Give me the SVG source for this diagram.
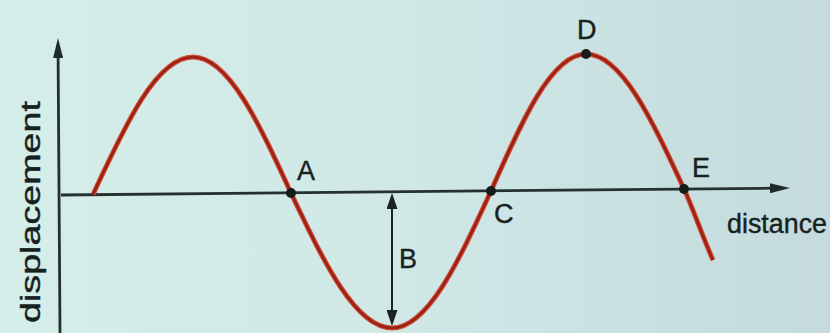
<svg xmlns="http://www.w3.org/2000/svg" width="830" height="333" viewBox="0 0 830 333">
  <defs>
    <linearGradient id="bg" x1="0" y1="0" x2="1" y2="0">
      <stop offset="0" stop-color="#d6eee9"/>
      <stop offset="0.5" stop-color="#cfe8e6"/>
      <stop offset="1" stop-color="#c4dadd"/>
    </linearGradient>
    <marker id="axisHead" markerUnits="userSpaceOnUse" viewBox="0 0 20 10" refX="2" refY="5" markerWidth="20" markerHeight="10" orient="auto">
      <path d="M0,0 L20,5 L0,10 Z" fill="#1f2b29"/>
    </marker>
    <marker id="bHead" markerUnits="userSpaceOnUse" viewBox="0 0 16 11" refX="2" refY="5.5" markerWidth="16" markerHeight="11" orient="auto-start-reverse">
      <path d="M0,0 L16,5.5 L0,11 Z" fill="#1a2321"/>
    </marker>
    <style>
      .axis { stroke: #24312e; stroke-width: 2.8; fill: none; }
      .waveOuter { stroke: #d24a33; stroke-width: 5; fill: none; }
      .waveInner { stroke: #982215; stroke-width: 2.6; fill: none; }
      .dot { fill: #161c1a; }
      .lbl { font-family: "Liberation Sans", Arial, sans-serif; font-size: 27px; fill: #17211f; stroke: #17211f; stroke-width: 0.4; }
    </style>
  </defs>

  <rect x="0" y="0" width="830" height="333" fill="url(#bg)"/>

  <g id="connectors">
    <line id="y-axis" class="axis" x1="60" y1="333" x2="58.1" y2="56" marker-end="url(#axisHead)"/>
    <line id="x-axis" class="axis" x1="61" y1="195" x2="772" y2="188.2" marker-end="url(#axisHead)"/>
    <line id="b-arrow" x1="392" y1="207" x2="392" y2="312" stroke="#1a2321" stroke-width="2" marker-start="url(#bHead)" marker-end="url(#bHead)"/>
  </g>

  <g id="wave">
    <path class="waveOuter" d="M93,194.5 C125.6,123.8 156.8,57 193,57 C228.5,57 259,123.3 291,193 C323.9,262.2 355.4,328 392,328 C427.8,328 458.7,261.2 491,191 C522,120.8 551.6,54 586,54 C621.5,54 652,119.8 684,189 C693.7,210 703,238 713,260"/>
    <path class="waveInner" d="M93,194.5 C125.6,123.8 156.8,57 193,57 C228.5,57 259,123.3 291,193 C323.9,262.2 355.4,328 392,328 C427.8,328 458.7,261.2 491,191 C522,120.8 551.6,54 586,54 C621.5,54 652,119.8 684,189 C693.7,210 703,238 713,260"/>
  </g>

  <g id="point-A">
    <circle class="dot" cx="291" cy="193" r="5"/>
    <text class="lbl" x="297" y="180">A</text>
  </g>
  <g id="point-B">
    <text class="lbl" x="399" y="268">B</text>
  </g>
  <g id="point-C">
    <circle class="dot" cx="491" cy="191" r="5"/>
    <text class="lbl" x="494" y="223">C</text>
  </g>
  <g id="point-D">
    <circle class="dot" cx="586" cy="54" r="5"/>
    <text class="lbl" x="577" y="39">D</text>
  </g>
  <g id="point-E">
    <circle class="dot" cx="684" cy="189" r="5"/>
    <text class="lbl" x="692" y="177">E</text>
  </g>

  <g id="label-distance">
    <text class="lbl" x="727" y="233" font-size="28" textLength="100" lengthAdjust="spacingAndGlyphs">distance</text>
  </g>
  <g id="label-displacement">
    <text class="lbl" transform="translate(40,323) rotate(-90)" x="0" y="0" font-size="29" textLength="222" lengthAdjust="spacingAndGlyphs">displacement</text>
  </g>
</svg>
